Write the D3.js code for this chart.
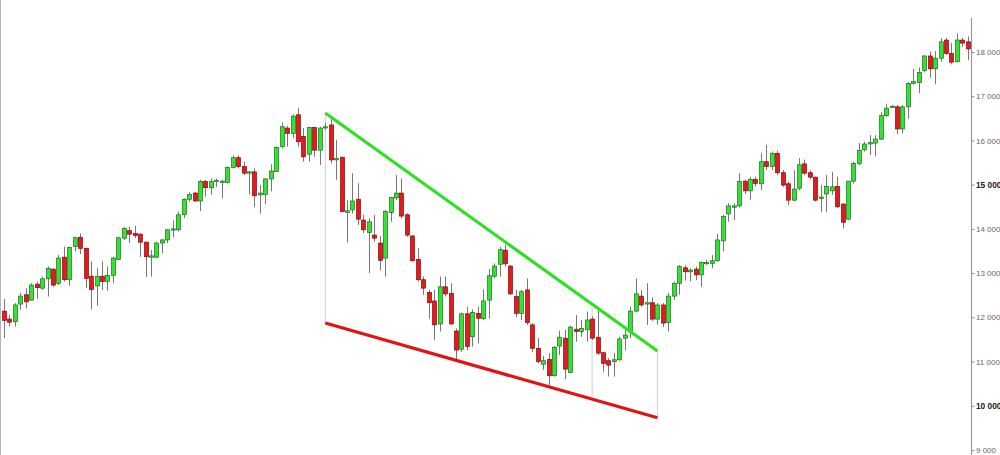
<!DOCTYPE html>
<html>
<head>
<meta charset="utf-8">
<script src="https://cdn.jsdelivr.net/npm/d3@7"></script>
<style>
  html, body { margin: 0; padding: 0; background: #fff; }
  svg { display: block; }
</style>
</head>
<body>
<svg id="chart" width="1000" height="455"></svg>
<script>
// ---- DATA ----
const opens = [
 12140,11960,11900,12300,12510,12390,12750,12660,12870,13090,
 12770,13360,12850,13600,13810,13560,12930,12710,12930,12810,
 12950,13310,13790,13960,13900,13880,13700,13360,13360,13680,
 13750,13980,13980,14320,14670,14810,14630,15070,14930,15070,
 15070,15050,15390,15610,15410,15260,15290,14770,14780,15130,
 15300,15860,16280,16160,16580,16090,15690,16290,15780,16290,
 16350,15560,15620,14370,14430,14670,14200,13920,13860,13680,
 13340,14370,14700,14810,14320,13840,13310,12850,12560,12370,
 11850,12690,12540,11690,11280,12080,11560,12090,11970,12390,
 12930,13200,13520,13160,12470,12090,12620,11830,11300,10940,
 11050,10680,11350,11530,10750,11730,11680,11720,11960,11550,
 11200,11020,11000,11040,11530,11670,12140,12480,12300,12330,
 11960,12280,11880,12480,12770,13120,13030,13090,12960,13230,
 13220,13280,13730,14340,14490,14520,15080,14860,15120,15020,
 15520,15410,15710,15270,15020,14650,14920,15470,15270,15170,
 14690,14790,14860,14960,14560,14220,15080,15480,15790,15920,
 15940,16030,16560,16760,16760,16260,16760,17290,17310,17580,
 17910,17620,17860,18270,17970,17780,18270,18230
];
const highs = [
 12420,12050,12320,12550,12660,12770,12810,12920,13150,13110,
 13410,13600,13600,13820,13900,13580,13260,13110,13270,13150,
 13370,13820,14040,14050,14070,13900,13710,13520,13710,13770,
 13990,14190,14390,14690,14830,14840,15110,15110,15140,15140,
 15110,15410,15660,15660,15520,15310,15370,14990,15140,15460,
 15860,16410,16330,16590,16730,16280,16310,16310,16310,16400,
 16540,16010,15630,14650,15260,15030,14320,14240,14320,13840,
 14430,14720,15220,15140,14350,13860,13560,12920,12620,12620,
 12920,12920,12770,11750,12110,12240,12180,12240,12630,13090,
 13220,13600,13640,13180,12620,12620,12880,11870,11530,11130,
 11190,11350,11700,11720,11810,12050,11940,12130,12020,12170,
 11220,11080,11190,11560,11720,12240,12880,12620,12770,12450,
 12320,12320,12550,12810,13180,13180,13110,13150,13260,13300,
 13410,13890,14320,14580,14580,15260,15110,15180,15180,15710,
 15900,15750,15770,15330,15070,15330,15600,15570,15330,15180,
 14990,15220,15290,15180,14580,15080,15520,15940,15970,16120,
 16120,16640,16820,16800,16800,16800,17320,17620,17650,17930,
 18010,18020,18310,18320,18200,18420,18320,18350
];
const lows = [
 11530,11790,11790,12170,12200,12380,12420,12620,12470,12690,
 12730,12810,12710,13490,13430,12660,12180,12260,12620,12600,
 12770,13300,13750,13680,13790,13370,12910,12920,13340,13450,
 13680,13810,13940,14240,14620,14620,14400,14730,14770,14950,
 14690,15030,15370,15370,15220,14780,14500,14350,14560,14850,
 15290,15820,15860,16050,15860,15520,15520,15630,15450,16240,
 15480,15110,14380,13690,14350,14090,13900,13000,13710,13060,
 12920,14160,14650,14240,13820,13260,12810,12510,11970,11490,
 11680,12470,11830,11040,11220,11260,11340,11410,11940,11970,
 12880,12920,13150,12510,12000,11940,11830,11220,10960,10810,
 10470,10660,11150,10600,10740,11450,11560,11450,11490,11150,
 10770,10660,10660,11020,11250,11530,12130,12240,11830,11920,
 11830,11780,11680,12390,12510,12830,12810,12840,12690,13180,
 13110,13260,13490,14160,14200,14490,14790,14650,14960,14880,
 15330,15330,15220,14950,14540,14620,14880,15220,15120,14620,
 14390,14390,14770,14470,14010,14200,15030,15440,15750,15670,
 15640,16010,16540,16740,16140,16160,16490,17270,17070,17540,
 17420,17270,17780,17930,17720,17770,18120,17820
];
const closes = [
 11930,11890,12280,12480,12350,12730,12670,12870,13110,12730,
 13340,12850,13580,13800,13560,12880,12630,12920,12810,12950,
 13340,13800,14010,13880,13850,13700,13370,13390,13680,13750,
 13980,14000,14320,14670,14780,14630,15070,14930,15070,15100,
 15080,15390,15610,15410,15260,15290,14750,14810,15130,15310,
 15840,16310,16160,16550,15970,15630,16290,15780,16280,16310,
 15560,15590,14390,14410,14630,14220,13980,14160,13790,13290,
 14390,14710,14810,14290,13860,13280,12850,12660,12330,11830,
 12690,12530,11850,11260,12080,11340,12110,11980,12370,12940,
 13160,13530,13210,12530,12090,12580,11880,11300,11000,11020,
 10680,11320,11550,10830,11780,11680,11750,11940,11530,11190,
 10960,10920,11040,11510,11600,12140,12530,12280,12330,11960,
 12280,11870,12480,12770,13150,13030,13070,12960,13240,13240,
 13280,13750,14280,14520,14520,15070,14860,15120,15030,15520,
 15410,15710,15270,14990,14650,14900,15450,15260,15170,14650,
 14720,14960,14950,14500,14150,15080,15480,15770,15920,15950,
 16030,16560,16730,16770,16260,16760,17290,17330,17540,17910,
 17620,17860,18230,17970,17770,18270,18200,18070
];
const tickValues = [9000,10000,11000,12000,13000,14000,15000,16000,17000,18000];
const boldTicks = [10000, 15000];

// Falling-wedge trend lines: anchor candle indices and prices
const lineIdx = [59, 120];
const upperLine = [16620, 11240];
const lowerLine = [11870, 9730];
// thin marker verticals: [candle index, top price] (bottom = lower line)
const markerIdx = [59, 108, 120];
const markerTop = [16620, 12210, 11240];

// ---- CHART ----
const W = 1000, H = 455;
const svg = d3.select("#chart");
const n = opens.length;

const x = d3.scaleLinear().domain([0, n - 1]).range([4, 967.8]);
const y = d3.scaleLinear().domain([9000, 18000]).range([450, 52]);
const step = x(1) - x(0);
const bw = step * 0.74;

// frame line (left)
svg.append("line").attr("x1", 0.5).attr("x2", 0.5).attr("y1", 0).attr("y2", H)
  .attr("stroke", "#b5b5b5").attr("stroke-width", 1);

// axis
const axisX = 971.5;
svg.append("line").attr("x1", axisX).attr("x2", axisX).attr("y1", 18).attr("y2", H)
  .attr("stroke", "#9a9a9a").attr("stroke-width", 1.2);
const fmt = d => d3.format(",")(d).replace(/,/g, " ");
const axis = d3.axisRight(y).tickValues(tickValues).tickSize(3).tickPadding(1.5).tickFormat(fmt);
const gAxis = svg.append("g").attr("transform", `translate(${axisX},0)`).call(axis);
gAxis.select(".domain").remove();
gAxis.selectAll(".tick line").attr("stroke", "#8a8a8a");
gAxis.selectAll(".tick text")
  .attr("font-family", "'Liberation Sans', Arial, sans-serif")
  .attr("font-size", d => boldTicks.includes(d) ? 8.3 : 8)
  .attr("font-weight", d => boldTicks.includes(d) ? "bold" : "normal")
  .attr("fill", d => boldTicks.includes(d) ? "#222" : "#666");

// marker verticals
const lowerAt = i => lowerLine[0] + (lowerLine[1] - lowerLine[0]) * (i - lineIdx[0]) / (lineIdx[1] - lineIdx[0]);
svg.append("g").selectAll("line").data(markerIdx).join("line")
  .attr("x1", d => x(d)).attr("x2", d => x(d))
  .attr("y1", (d, k) => y(markerTop[k]))
  .attr("y2", d => y(lowerAt(d)))
  .attr("stroke", "#cfcfcf").attr("stroke-width", 1);

// candles
const idx = d3.range(n);
const gC = svg.append("g");
gC.selectAll("line.wick").data(idx).join("line").attr("class", "wick")
  .attr("x1", i => Math.round(x(i)) + 0.5).attr("x2", i => Math.round(x(i)) + 0.5)
  .attr("y1", i => y(highs[i])).attr("y2", i => y(lows[i]))
  .attr("stroke", "#777").attr("stroke-width", 1);
gC.selectAll("rect.body").data(idx).join("rect").attr("class", "body")
  .attr("x", i => Math.round(x(i)) + 0.5 - bw / 2)
  .attr("width", bw)
  .attr("y", i => y(Math.max(opens[i], closes[i])))
  .attr("height", i => Math.max(1.2, Math.abs(y(opens[i]) - y(closes[i]))))
  .attr("fill", i => closes[i] >= opens[i] ? "#33e333" : "#e8191c")
  .attr("stroke", i => closes[i] >= opens[i] ? "#1d6e1d" : "#7a1010")
  .attr("stroke-width", 0.7);

// trend lines
svg.append("line")
  .attr("x1", x(lineIdx[0])).attr("x2", x(lineIdx[1]))
  .attr("y1", y(upperLine[0])).attr("y2", y(upperLine[1]))
  .attr("stroke", "#2fe020").attr("stroke-width", 3.2);
svg.append("line")
  .attr("x1", x(lineIdx[0])).attr("x2", x(lineIdx[1]))
  .attr("y1", y(lowerLine[0])).attr("y2", y(lowerLine[1]))
  .attr("stroke", "#e01414").attr("stroke-width", 3.2);
</script>
</body>
</html>
